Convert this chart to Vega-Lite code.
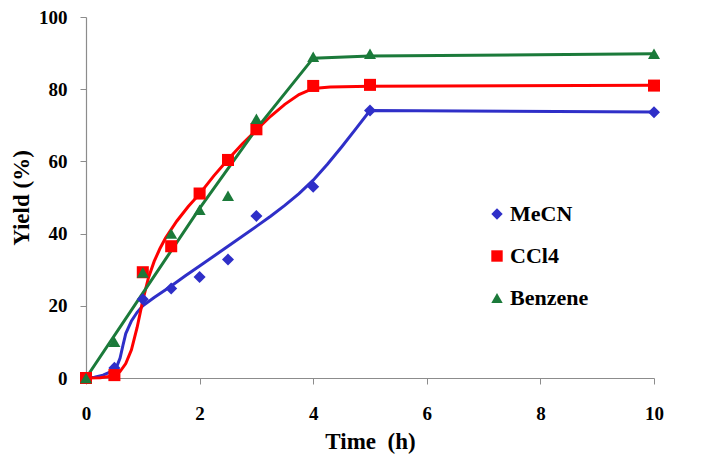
{
  "$schema": "https://vega.github.io/schema/vega-lite/v6.json",
  "width": 568,
  "height": 361,
  "autosize": {"type": "none"},
  "padding": {"left": 86, "top": 17, "right": 53, "bottom": 81},
  "background": "white",
  "config": {
    "view": {"stroke": null},
    "font": "Liberation Serif",
    "axis": {"labelFont": "Liberation Serif", "titleFont": "Liberation Serif"},
    "legend": {"labelFont": "Liberation Serif"}
  },
  "datasets": {
    "pts": [
      {"t": 0, "y": 0, "s": "MeCN"}, {"t": 0.5, "y": 2.8, "s": "MeCN"}, {"t": 1, "y": 21.8, "s": "MeCN"}, {"t": 1.5, "y": 24.8, "s": "MeCN"}, {"t": 2, "y": 28, "s": "MeCN"}, {"t": 2.5, "y": 32.8, "s": "MeCN"}, {"t": 3, "y": 44.9, "s": "MeCN"}, {"t": 4, "y": 53, "s": "MeCN"}, {"t": 5, "y": 74.1, "s": "MeCN"}, {"t": 10, "y": 73.6, "s": "MeCN"},
      {"t": 0, "y": 0, "s": "CCl4"}, {"t": 0.5, "y": 0.8, "s": "CCl4"}, {"t": 1, "y": 29.3, "s": "CCl4"}, {"t": 1.5, "y": 36.5, "s": "CCl4"}, {"t": 2, "y": 51.1, "s": "CCl4"}, {"t": 2.5, "y": 60.4, "s": "CCl4"}, {"t": 3, "y": 68.9, "s": "CCl4"}, {"t": 4, "y": 80.9, "s": "CCl4"}, {"t": 5, "y": 81.2, "s": "CCl4"}, {"t": 10, "y": 81, "s": "CCl4"},
      {"t": 0, "y": 0, "s": "Benzene"}, {"t": 0.5, "y": 10, "s": "Benzene"}, {"t": 1, "y": 29.2, "s": "Benzene"}, {"t": 1.5, "y": 40, "s": "Benzene"}, {"t": 2, "y": 46.6, "s": "Benzene"}, {"t": 2.5, "y": 50.5, "s": "Benzene"}, {"t": 3, "y": 71.8, "s": "Benzene"}, {"t": 4, "y": 89, "s": "Benzene"}, {"t": 5, "y": 89.8, "s": "Benzene"}, {"t": 10, "y": 89.8, "s": "Benzene"}
    ],
    "curve": [
      {"t": 0, "y": 0, "s": "MeCN"}, {"t": 0.15, "y": 0.2, "s": "MeCN"}, {"t": 0.3, "y": 0.8, "s": "MeCN"}, {"t": 0.45, "y": 1.8, "s": "MeCN"}, {"t": 0.55, "y": 3.5, "s": "MeCN"}, {"t": 0.6, "y": 5.5, "s": "MeCN"}, {"t": 0.65, "y": 9, "s": "MeCN"}, {"t": 0.7, "y": 12.3, "s": "MeCN"}, {"t": 0.8, "y": 15.8, "s": "MeCN"}, {"t": 0.9, "y": 18.2, "s": "MeCN"}, {"t": 1, "y": 20, "s": "MeCN"}, {"t": 1.2, "y": 22.3, "s": "MeCN"}, {"t": 1.5, "y": 25.5, "s": "MeCN"}, {"t": 1.75, "y": 28.3, "s": "MeCN"}, {"t": 2, "y": 31, "s": "MeCN"}, {"t": 2.5, "y": 36.5, "s": "MeCN"}, {"t": 3, "y": 42, "s": "MeCN"}, {"t": 3.25, "y": 44.8, "s": "MeCN"}, {"t": 3.5, "y": 47.8, "s": "MeCN"}, {"t": 3.75, "y": 51.1, "s": "MeCN"}, {"t": 4, "y": 54.8, "s": "MeCN"}, {"t": 4.25, "y": 59.2, "s": "MeCN"}, {"t": 4.5, "y": 64, "s": "MeCN"}, {"t": 4.75, "y": 69, "s": "MeCN"}, {"t": 5, "y": 74.1, "s": "MeCN"}, {"t": 10, "y": 73.7, "s": "MeCN"},
      {"t": 0, "y": 0, "s": "CCl4"}, {"t": 0.25, "y": 0.1, "s": "CCl4"}, {"t": 0.5, "y": 0.6, "s": "CCl4"}, {"t": 0.6, "y": 1.8, "s": "CCl4"}, {"t": 0.7, "y": 4, "s": "CCl4"}, {"t": 0.8, "y": 7.8, "s": "CCl4"}, {"t": 0.9, "y": 14, "s": "CCl4"}, {"t": 1, "y": 21.5, "s": "CCl4"}, {"t": 1.1, "y": 27.8, "s": "CCl4"}, {"t": 1.2, "y": 32.3, "s": "CCl4"}, {"t": 1.3, "y": 35.8, "s": "CCl4"}, {"t": 1.4, "y": 38.8, "s": "CCl4"}, {"t": 1.6, "y": 43.5, "s": "CCl4"}, {"t": 1.8, "y": 47.5, "s": "CCl4"}, {"t": 2, "y": 51, "s": "CCl4"}, {"t": 2.25, "y": 56, "s": "CCl4"}, {"t": 2.5, "y": 60.5, "s": "CCl4"}, {"t": 2.75, "y": 64.8, "s": "CCl4"}, {"t": 3, "y": 68.7, "s": "CCl4"}, {"t": 3.25, "y": 72.5, "s": "CCl4"}, {"t": 3.5, "y": 75.8, "s": "CCl4"}, {"t": 3.75, "y": 78.5, "s": "CCl4"}, {"t": 4, "y": 80.2, "s": "CCl4"}, {"t": 4.3, "y": 80.6, "s": "CCl4"}, {"t": 5, "y": 80.8, "s": "CCl4"}, {"t": 10, "y": 81.1, "s": "CCl4"},
      {"t": 0, "y": 0, "s": "Benzene"}, {"t": 1, "y": 23.5, "s": "Benzene"}, {"t": 2, "y": 47, "s": "Benzene"}, {"t": 3, "y": 69, "s": "Benzene"}, {"t": 4, "y": 88.6, "s": "Benzene"}, {"t": 5, "y": 89.2, "s": "Benzene"}, {"t": 10, "y": 89.8, "s": "Benzene"}
    ]
  },
  "encoding": {
    "x": {
      "field": "t", "type": "quantitative",
      "scale": {"domain": [0, 10], "nice": false},
      "axis": {
        "title": "Time\u00a0 (h)", "values": [0, 2, 4, 6, 8, 10], "grid": false, "labelFlush": false,
        "domainColor": "#8c8c8c", "tickColor": "#8c8c8c", "tickSize": 6, "domainWidth": 1.2,
        "labelFont": "Liberation Serif", "labelFontSize": 19, "labelFontWeight": "bold", "labelColor": "black", "labelPadding": 20,
        "titleFont": "Liberation Serif", "titleFontSize": 23, "titleFontWeight": "bold", "titleColor": "black", "titlePadding": 7
      }
    },
    "y": {
      "field": "y", "type": "quantitative",
      "scale": {"domain": [0, 100], "nice": false},
      "axis": {
        "title": "Yield (%)", "values": [0, 20, 40, 60, 80, 100], "grid": false, "labelFlush": false,
        "domainColor": "#8c8c8c", "tickColor": "#8c8c8c", "tickSize": 6, "domainWidth": 1.2,
        "labelFont": "Liberation Serif", "labelFontSize": 19, "labelFontWeight": "bold", "labelColor": "black", "labelPadding": 13,
        "titleFont": "Liberation Serif", "titleFontSize": 23, "titleFontWeight": "bold", "titleColor": "black", "titlePadding": 5
      }
    }
  },
  "layer": [
    {
      "data": {"name": "curve"},
      "transform": [{"filter": "datum.s === 'MeCN'"}],
      "mark": {"type": "line", "strokeWidth": 3, "color": "#2f2fc8"},
      "encoding": {}
    },
    {
      "data": {"name": "curve"},
      "transform": [{"filter": "datum.s === 'CCl4'"}],
      "mark": {"type": "line", "strokeWidth": 3, "color": "#ff0000"},
      "encoding": {}
    },
    {
      "data": {"name": "curve"},
      "transform": [{"filter": "datum.s === 'Benzene'"}],
      "mark": {"type": "line", "strokeWidth": 3, "color": "#1b7a3a"},
      "encoding": {}
    },
    {
      "data": {"name": "pts"},
      "mark": {"type": "point", "filled": true, "opacity": 1, "size": 145},
      "encoding": {
        "color": {"field": "s", "type": "nominal", "scale": {"domain": ["MeCN", "CCl4", "Benzene"], "range": ["#2f2fc8", "#ff0000", "#1b7a3a"]},
          "legend": {"orient": "none", "legendX": 400, "legendY": 186, "title": null, "labelFontSize": 22, "labelFontWeight": "bold", "labelColor": "black", "symbolSize": 130, "rowPadding": 20, "labelOffset": 2}},
        "shape": {"field": "s", "type": "nominal", "scale": {"domain": ["MeCN", "CCl4", "Benzene"], "range": ["diamond", "square", "triangle-up"]},
          "legend": {"orient": "none", "legendX": 400, "legendY": 186, "title": null, "labelFontSize": 22, "labelFontWeight": "bold", "labelColor": "black", "symbolSize": 130, "rowPadding": 20, "labelOffset": 2}}
      }
    }
  ]
}
